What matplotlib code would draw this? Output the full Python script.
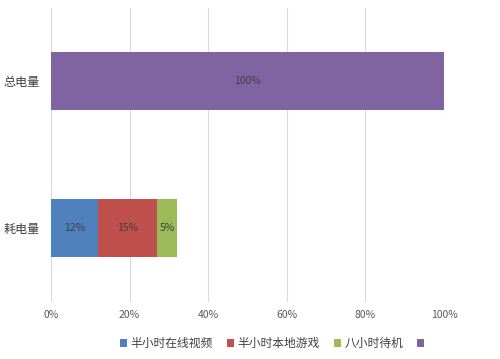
import matplotlib.pyplot as plt
import numpy as np

plt.rcParams["font.family"] = ["Noto Sans CJK SC", "DejaVu Sans"]

categories = ["耗电量", "总电量"]
series_names = ["半小时在线视频", "半小时本地游戏", "八小时待机", " "]
video = [12, 0]
game = [15, 0]
standby = [5, 0]
total = [0, 100]
colors = ["#4F81BD", "#C0504D", "#9BBB59", "#8064A2"]

fig = plt.figure(figsize=(5, 3.59), dpi=100)
ax = fig.add_axes([0.102, 0.16, 0.786, 0.819])

y = np.arange(len(categories))
left = np.zeros(len(categories))
for name, vals, c in zip(series_names, [video, game, standby, total], colors):
    vals = np.array(vals, dtype=float)
    bars = ax.barh(y, vals, left=left, height=0.4, color=c, label=name, zorder=3)
    for b, v in zip(bars, vals):
        if v > 0:
            ax.text(b.get_x() + b.get_width() / 2, b.get_y() + b.get_height() / 2,
                    f"{v:.0f}%", ha="center", va="center", fontsize=7.5, color="#404040", zorder=4)
    left += vals

ax.set_xlim(0, 100)
ax.set_ylim(-0.5, 1.5)
ax.set_xticks(np.arange(0, 101, 20))
ax.set_xticklabels([f"{t}%" for t in range(0, 101, 20)], fontsize=7.5, color="#595959")
ax.set_yticks(y)
ax.set_yticklabels(categories, fontsize=8.7, color="#404040")
ax.tick_params(axis="x", length=0, pad=6)
ax.tick_params(axis="y", length=0, pad=8)
ax.grid(axis="x", color="#D9D9D9", linewidth=0.8, zorder=0)
for s in ax.spines.values():
    s.set_visible(False)

ax.legend(loc="upper center", bbox_to_anchor=(0.57, -0.085), ncol=4, frameon=False,
          fontsize=8.5, handlelength=0.6, handleheight=0.6, handletextpad=0.3,
          columnspacing=1.2, labelcolor="#404040")

fig.savefig("out.png", dpi=100, facecolor="white")
